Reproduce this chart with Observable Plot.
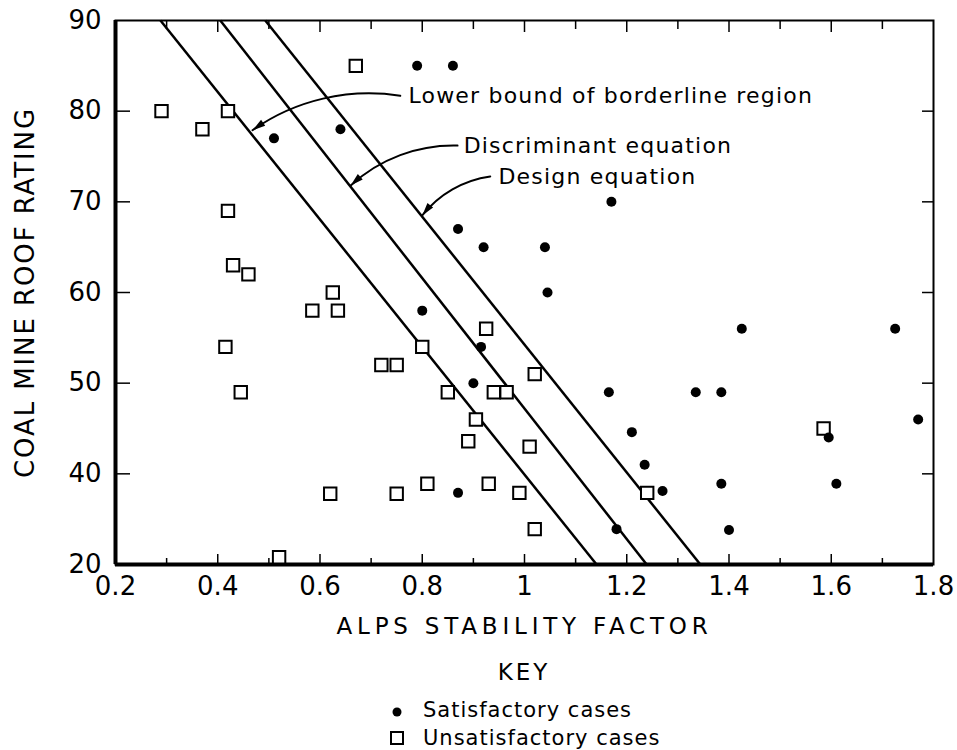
<!DOCTYPE html>
<html>
<head>
<meta charset="utf-8">
<script src="https://cdn.jsdelivr.net/npm/d3@7"></script>
<script src="https://cdn.jsdelivr.net/npm/@observablehq/plot@0.6"></script>
<style>
  body { margin: 0; background: #fff; font-family: "DejaVu Sans", sans-serif; color: #000; }
  #key { margin-left: 115px; width: 818px; text-align: center; font-size: 23px; letter-spacing: 3px; height: 35px; line-height: 35px; }
  #legend { margin-left: 388px; padding-top: 6px; font-size: 21px; letter-spacing: 1px; }
  .row { height: 28px; line-height: 28px; display: flex; align-items: center; }
  .row svg { flex: none; }
</style>
</head>
<body>
<div id="chart"></div>
<div id="key">KEY</div>
<div id="legend"></div>
<script>
// ---- data ----
const satisfactoryX = [0.79, 0.86, 0.51, 0.64, 1.17, 0.87, 0.92, 1.04, 1.045, 0.80, 0.915, 0.90, 1.165, 1.335, 1.385, 1.425, 1.725, 1.77, 1.595, 1.21, 1.235, 1.27, 1.385, 1.61, 0.87, 1.18, 1.40];
const satisfactoryY = [85, 85, 77, 78, 70, 67, 65, 65, 60, 58, 54, 50, 49, 49, 49, 56, 56, 46, 44, 44.6, 41, 36.2, 37.8, 37.8, 35.8, 27.8, 27.6];

const unsatisfactoryX = [0.67, 0.29, 0.42, 0.37, 0.42, 0.43, 0.46, 0.625, 0.585, 0.635, 0.415, 0.80, 0.72, 0.75, 0.445, 0.85, 0.925, 1.02, 0.94, 0.965, 0.905, 0.89, 1.01, 0.62, 0.75, 0.81, 0.93, 0.99, 1.24, 1.02, 0.52, 1.585];
const unsatisfactoryY = [85, 80, 80, 78, 69, 63, 62, 60, 58, 58, 54, 54, 52, 52, 49, 49, 56, 51, 49, 49, 46, 43.6, 43, 35.6, 35.6, 37.8, 37.8, 35.8, 35.8, 27.8, 21.6, 45];

// boundary lines: ALPS value at CMRR 90 (top) and at CMRR 20 (bottom)
const lineNames = ["Lower bound of borderline region", "Discriminant equation", "Design equation"];
const lineTopX = [0.288, 0.405, 0.493];
const lineBottomX = [1.141, 1.239, 1.344];
const lineTopY = 90, lineBottomY = 20;

// annotation labels and their arrows (data units)
const labelX = [0.773, 0.881, 0.949];
const labelY = [81.7, 76.2, 72.7];
const arrowFromX = [0.757, 0.869, 0.933];
const arrowFromY = [81.7, 76.2, 72.8];
const arrowToX = [0.468, 0.660, 0.800];
const arrowToY = [77.9, 71.8, 68.5];

// axes
const xTicks = [0.2, 0.4, 0.6, 0.8, 1, 1.2, 1.4, 1.6, 1.8];
const xMinorTicks = [0.3, 0.5, 0.7, 0.9, 1.1, 1.3, 1.5, 1.7];
const xMajorInner = [0.4, 0.6, 0.8, 1, 1.2, 1.4, 1.6];
const yTicks = [20, 40, 50, 60, 70, 80, 90];
const yInnerTicks = [40, 50, 60, 70, 80];
const xTitle = "ALPS STABILITY FACTOR";
const yTitle = "COAL MINE ROOF RATING";
const legendNames = ["Satisfactory cases", "Unsatisfactory cases"];

// ---- layout ----
const W = 957, H = 655, mL = 115, mR = 24, mT = 20, mB = 91;
const plotH = H - mT - mB, plotW = W - mL - mR;
const font = "DejaVu Sans";
const BEND = -22;

// the reference compresses the 20–40 segment of the y axis to half scale
const compress = v => (v >= 40 ? v : 40 - (40 - v) / 2);
const xScale = Plot.scale({x: {domain: [0.2, 1.8], range: [mL, W - mR]}});
const yScale = Plot.scale({y: {domain: [30, 90], range: [H - mB, mT]}});

// ---- build tables ----
const sat = satisfactoryX.map((x, i) => ({x, y: satisfactoryY[i]}));
const unsat = unsatisfactoryX.map((x, i) => ({x, y: unsatisfactoryY[i]}));
const bounds = lineNames.map((name, i) => ({name, x1: lineTopX[i], y1: lineTopY, x2: lineBottomX[i], y2: lineBottomY}));
const notes = lineNames.map((name, i) => {
  const dx = xScale.apply(arrowToX[i]) - xScale.apply(arrowFromX[i]);
  const dy = yScale.apply(compress(arrowToY[i])) - yScale.apply(compress(arrowFromY[i]));
  const endAngle = Math.atan2(dy, dx) * 180 / Math.PI + BEND; // tangent at the arrow tip
  return {name, x: labelX[i], y: labelY[i], x1: arrowFromX[i], y1: arrowFromY[i], x2: arrowToX[i], y2: arrowToY[i], rot: endAngle + 90};
});
const yTickRows = yTicks.map(v => ({v, label: String(v)}));
const yInnerRows = yInnerTicks.map(v => ({v}));
const yBaseRows = [{v: yTicks[0]}];

// filled, slender arrowhead with its tip at the origin, pointing up
const arrowHead = {draw(ctx) { ctx.moveTo(0, 0); ctx.lineTo(-3.6, 13); ctx.lineTo(3.6, 13); ctx.closePath(); }};

const chart = Plot.plot({
  width: W, height: H,
  marginLeft: mL, marginRight: mR, marginTop: mT, marginBottom: mB,
  style: {fontFamily: font, background: "white", color: "black", overflow: "visible"},
  x: {domain: [0.2, 1.8]},
  y: {transform: compress, domain: [30, 90], axis: null},
  marks: [
    Plot.frame({stroke: "black", strokeWidth: 2}),
    Plot.ruleX([0.2], {stroke: "black", strokeWidth: 4}),
    Plot.ruleY(yBaseRows, {y: "v", stroke: "black", strokeWidth: 4}),
    // inward ticks
    Plot.tickX(xMajorInner, {x: d => d, insetTop: plotH - 10, strokeWidth: 1.5}),
    Plot.tickX(xMinorTicks, {x: d => d, insetTop: plotH - 6, strokeWidth: 1.5}),
    Plot.tickX(xMajorInner, {x: d => d, insetBottom: plotH - 12, strokeWidth: 1.5}),
    Plot.tickX(xMinorTicks, {x: d => d, insetBottom: plotH - 9, strokeWidth: 1.5}),
    Plot.tickY(yInnerRows, {y: "v", insetRight: plotW - 15, strokeWidth: 1.5}),
    Plot.tickY(yInnerRows, {y: "v", insetLeft: plotW - 11, strokeWidth: 1.5}),
    Plot.axisX({ticks: xTicks, tickSize: 0, tickPadding: 12, tickFormat: d => String(d), fontSize: 26, label: null}),
    // y tick labels
    Plot.text(yTickRows, {y: "v", text: "label", frameAnchor: "left", textAnchor: "end", dx: -14, fontSize: 26, fill: "black"}),
    Plot.text([xTitle], {frameAnchor: "bottom", textAnchor: "middle", dy: 69, fontSize: 23, fill: "black"}),
    Plot.text([yTitle], {frameAnchor: "left", textAnchor: "middle", dx: -90, rotate: -90, fontSize: 26, fill: "black"}),
    // boundary lines
    Plot.link(bounds, {x1: "x1", y1: "y1", x2: "x2", y2: "y2", stroke: "black", strokeWidth: 2.5}),
    // annotations
    Plot.arrow(notes, {x1: "x1", y1: "y1", x2: "x2", y2: "y2", bend: BEND, headLength: 0, strokeWidth: 2, stroke: "black"}),
    Plot.dot(notes, {x: "x2", y: "y2", symbol: () => arrowHead, rotate: "rot", fill: "black", stroke: "none", r: 5}),
    Plot.text(notes, {x: "x", y: "y", text: "name", textAnchor: "start", fontSize: 22, fill: "black"}),
    // data points
    Plot.dot(unsat, {x: "x", y: "y", symbol: "square", r: 7, fill: "white", stroke: "black", strokeWidth: 2}),
    Plot.dot(sat, {x: "x", y: "y", r: 5, fill: "black"})
  ]
});
// letter spacing for titles/annotations
chart.querySelectorAll("text").forEach(t => {
  const s = t.textContent;
  if (s === xTitle) t.setAttribute("letter-spacing", "4.8");
  else if (s === yTitle) t.setAttribute("letter-spacing", "1.9");
  else if (lineNames.includes(s)) t.setAttribute("letter-spacing", "1.2");
});
document.getElementById("chart").appendChild(chart);

// legend
const legend = document.getElementById("legend");
legendNames.forEach((name, i) => {
  const row = document.createElement("div");
  row.className = "row";
  const sym = i === 0
    ? '<svg width="35" height="28"><circle cx="9" cy="16" r="4.5" fill="black"/></svg>'
    : '<svg width="35" height="28"><rect x="3" y="8" width="12" height="12" fill="white" stroke="black" stroke-width="2"/></svg>';
  row.innerHTML = sym + "<span>" + name + "</span>";
  legend.appendChild(row);
});
</script>
</body>
</html>
